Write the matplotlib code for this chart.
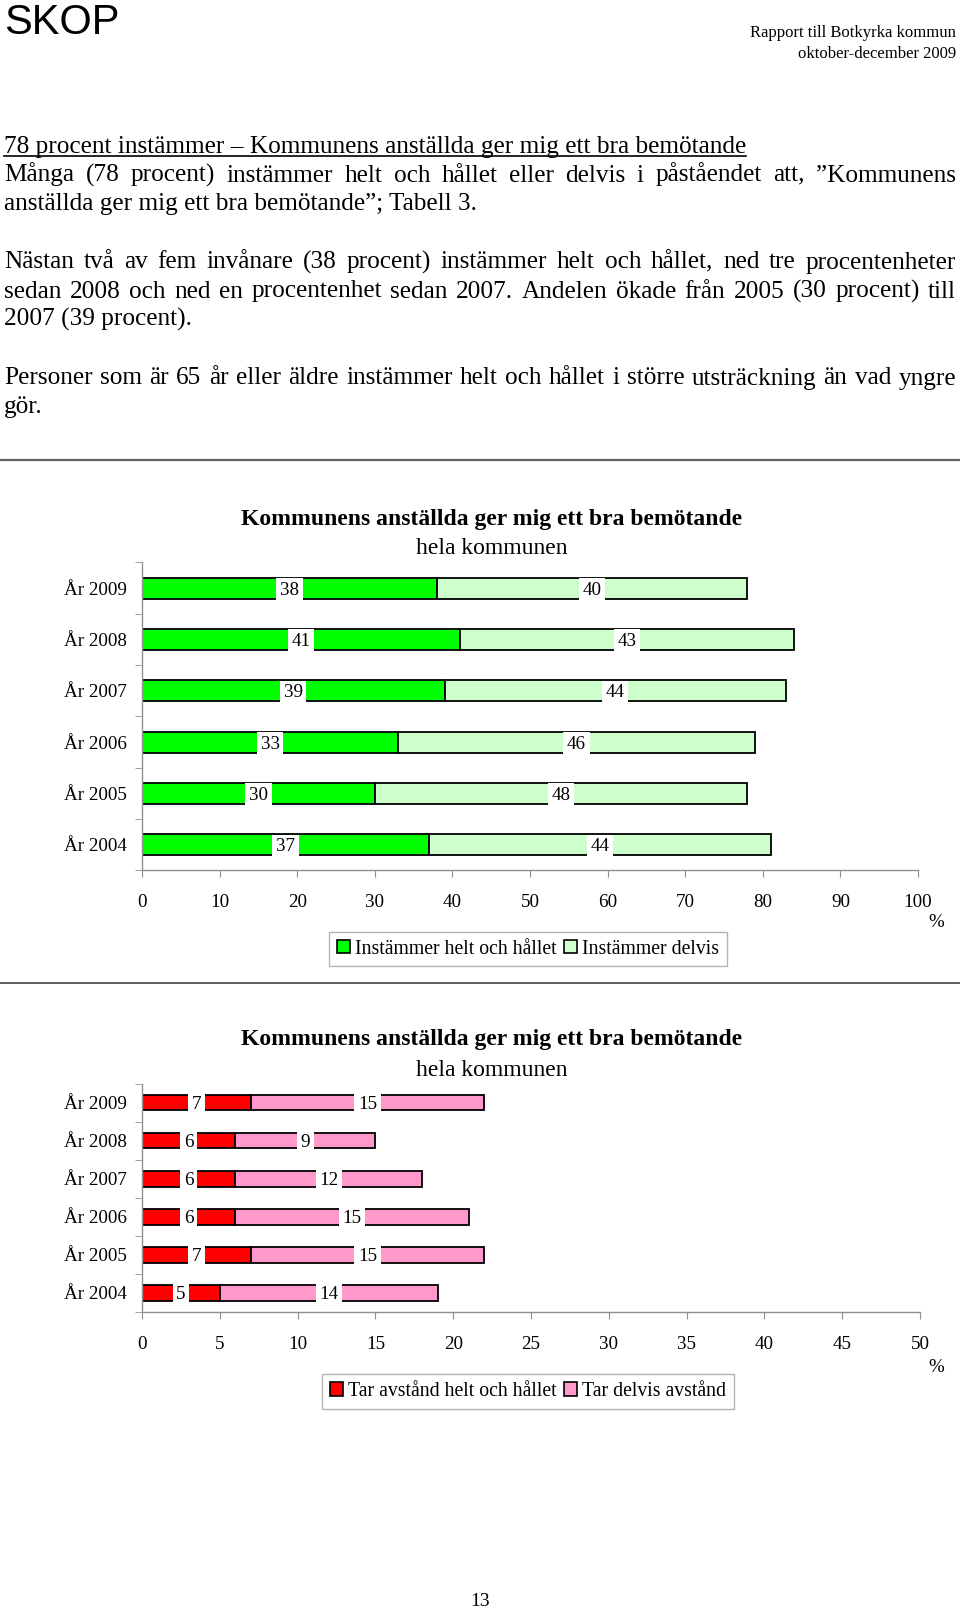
import matplotlib.pyplot as plt
from matplotlib.lines import Line2D
from matplotlib.patches import Patch

W, H = 960, 1609
serif = ['Liberation Serif', 'DejaVu Serif']

years = ['År 2009', 'År 2008', 'År 2007', 'År 2006', 'År 2005', 'År 2004']
instammer_helt = [38, 41, 39, 33, 30, 37]
instammer_delvis = [40, 43, 44, 46, 48, 44]
avstand_helt = [7, 6, 6, 6, 7, 5]
avstand_delvis = [15, 9, 12, 15, 15, 14]

chart_title = 'Kommunens anställda ger mig ett bra bemötande'
chart_subtitle = 'hela kommunen'

body = [
    ('78 procent instämmer – Kommunens anställda ger mig ett bra bemötande', 152.5, False),
    ('Många (78 procent) instämmer helt och hållet eller delvis i påståendet att, ”Kommunens', 181.5, True),
    ('anställda ger mig ett bra bemötande”; Tabell 3.', 210, False),
    ('Nästan två av fem invånare (38 procent) instämmer helt och hållet, ned tre procentenheter', 268.5, True),
    ('sedan 2008 och ned en procentenhet sedan 2007. Andelen ökade från 2005 (30 procent) till', 297.5, True),
    ('2007 (39 procent).', 326, False),
    ('Personer som är 65 år eller äldre instämmer helt och hållet i större utsträckning än vad yngre', 384.5, True),
    ('gör.', 413, False),
]

fig = plt.figure(figsize=(W / 100, H / 100), dpi=100)


def fx(x):
    return x / W


def fy(y):
    return 1 - y / H


# header
fig.text(fx(4), fy(34), 'SKOP', family=['Liberation Sans', 'DejaVu Sans'],
         fontsize=30, va='baseline', ha='left')
fig.text(fx(956), fy(37), 'Rapport till Botkyrka kommun', family=serif, fontsize=12,
         ha='right', va='baseline')
fig.text(fx(956), fy(58), 'oktober-december 2009', family=serif, fontsize=12,
         ha='right', va='baseline')

# body text, some lines justified
renderer = fig.canvas.get_renderer()
left, right = 4, 956
for line, base, justify in body:
    if not justify:
        t = fig.text(fx(left), fy(base), line, family=serif, fontsize=18.2, va='baseline')
        if line.startswith('78 procent'):
            bb = t.get_window_extent(renderer)
            fig.add_artist(Line2D([fx(left), bb.x1 / W], [fy(base + 3), fy(base + 3)],
                                  color='black', lw=1.2))
        continue
    words = line.split(' ')
    texts = [fig.text(0, fy(base), w, family=serif, fontsize=18.2, va='baseline') for w in words]
    widths = [t.get_window_extent(renderer).width for t in texts]
    gap = (right - left - sum(widths)) / (len(words) - 1)
    x = left
    for t, wd in zip(texts, widths):
        t.set_x(fx(x))
        x += wd + gap

# separators
fig.add_artist(Line2D([0, 1], [fy(459.7), fy(459.7)], color='#606060', lw=1.6))
fig.add_artist(Line2D([0, 1], [fy(982.7), fy(982.7)], color='#404040', lw=1.2))


def bar_chart(top, bottom, right_px, helt, delvis, xmax, step, c1, c2, lab1, lab2,
              title_y, leg_y, pct_dy, bar_h):
    ax = fig.add_axes([fx(142), fy(bottom), fx(right_px) - fx(142), fy(top) - fy(bottom)])
    ypos = list(range(len(years)))
    ax.barh(ypos, helt, height=bar_h, color=c1, edgecolor='black', lw=1.3)
    ax.barh(ypos, delvis, left=helt, height=bar_h, color=c2, edgecolor='black', lw=1.3)
    for i in ypos:
        for xc, v in [(helt[i] / 2, helt[i]), (helt[i] + delvis[i] / 2, delvis[i])]:
            ax.text(xc, i, str(v), family=serif, fontsize=13.7,
                    ha='center', va='center_baseline',
                    bbox=dict(facecolor='white', edgecolor='none', pad=2.6))
    ax.set_ylim(len(years) - 0.5, -0.5)
    ax.set_xlim(0, xmax)
    ax.set_yticks(ypos)
    ax.set_yticklabels(years, family=serif, fontsize=13.7)
    ax.set_yticks([i - 0.5 for i in range(len(years) + 1)], minor=True)
    ax.tick_params(axis='y', which='major', length=0, pad=11)
    ax.tick_params(axis='y', which='minor', length=5, color='#909090')
    ax.set_xticks(range(0, xmax + 1, step))
    ax.set_xticklabels([str(v) for v in range(0, xmax + 1, step)], family=serif, fontsize=13.7)
    ax.tick_params(axis='x', length=5, color='#909090', pad=12)
    for s in ['top', 'right']:
        ax.spines[s].set_visible(False)
    for s in ['left', 'bottom']:
        ax.spines[s].set_color('#909090')
        ax.spines[s].set_linewidth(1)
    fig.text(fx(492), fy(title_y), chart_title, family=serif, fontsize=17,
             fontweight='bold', ha='center', va='center')
    fig.text(fx(492), fy(title_y + 30), chart_subtitle, family=serif, fontsize=17,
             ha='center', va='center')
    fig.text(fx(936), fy(bottom + pct_dy), '%', family=serif, fontsize=13.7,
             ha='center', va='center')
    handles = [Patch(facecolor=c1, edgecolor='black', lw=1.2),
               Patch(facecolor=c2, edgecolor='black', lw=1.2)]
    leg = fig.legend(handles, [lab1, lab2], loc='center', ncol=2,
                     bbox_to_anchor=(fx(528), fy(leg_y)),
                     prop={'family': serif, 'size': 14.2},
                     handlelength=0.65, handleheight=0.65, handletextpad=0.25,
                     columnspacing=0.4, borderpad=0.4, fancybox=False,
                     frameon=True, borderaxespad=0)
    leg.get_frame().set_edgecolor('#a0a0a0')
    leg.get_frame().set_linewidth(1)
    return ax


bar_chart(562.4, 870.4, 918, instammer_helt, instammer_delvis, 100, 10,
          '#00FF00', '#CCFFCC', 'Instämmer helt och hållet', 'Instämmer delvis',
          519, 949, 52, 0.41)
bar_chart(1083.5, 1312, 920, avstand_helt, avstand_delvis, 50, 5,
          '#FF0000', '#FF99CC', 'Tar avstånd helt och hållet', 'Tar delvis avstånd',
          1040, 1391.5, 55, 0.41)

fig.text(fx(480), fy(1601), '13', family=serif, fontsize=14, ha='center', va='center')

fig.savefig('out.png', dpi=100)
